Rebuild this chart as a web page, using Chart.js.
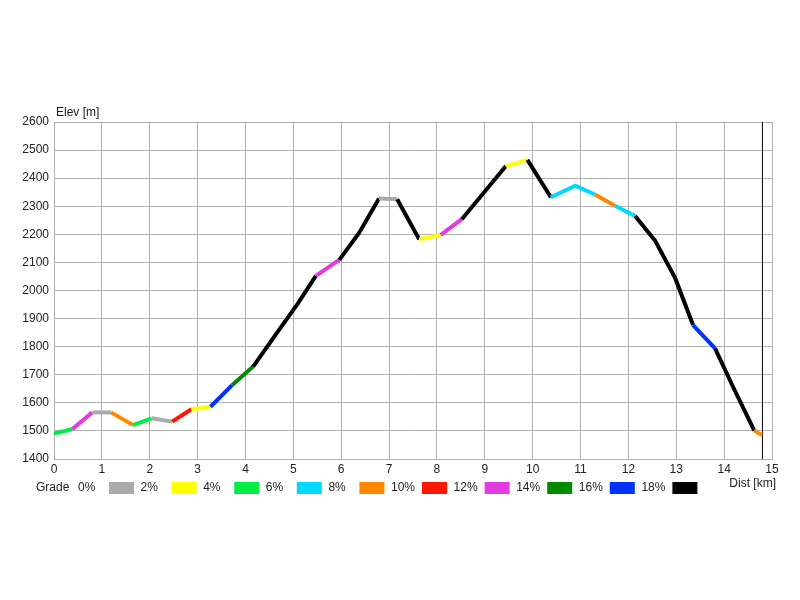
<!DOCTYPE html>
<html lang="en">
  <head>
    <meta charset="UTF-8" />
    <title>Elevation profile</title>
    <script src="https://cdn.jsdelivr.net/npm/chart.js"></script>
    <style>
      body { margin: 0; background: #fff; }
      #wrap { width: 800px; height: 600px; }
    </style>
  </head>
  <body>
    <div id="wrap"><canvas id="myChart"></canvas></div>
    <script>
      // distance along the track [km] and elevation [m]
      const dist = [0, 0.38, 0.8, 1.19, 1.65, 2.04, 2.47, 2.87, 3.27, 3.72, 4.16, 4.65, 5.1, 5.47, 5.96, 6.37, 6.79, 7.17, 7.63, 8.08, 8.52, 8.97, 9.44, 9.89, 10.38, 10.89, 11.3, 11.72, 12.14, 12.56, 12.98, 13.35, 13.81, 14.2, 14.63, 14.79];
      const elev = [1491, 1506, 1566, 1566, 1521, 1545, 1533, 1577, 1586, 1663, 1729, 1847, 1955, 2052, 2109, 2204, 2328, 2325, 2182, 2198, 2254, 2346, 2443, 2465, 2332, 2373, 2342, 2302, 2265, 2177, 2043, 1877, 1794, 1652, 1501, 1485];
      // grade class of each segment (lower bound in %)
      const segGrade = [4, 12, 0, 8, 4, 0, 10, 2, 16, 14, 18, 18, 18, 12, 18, 18, 0, 18, 2, 12, 18, 18, 2, 18, 6, 6, 8, 6, 18, 18, 18, 16, 18, 18, 8];

      const gradeLabels = ["0%", "2%", "4%", "6%", "8%", "10%", "12%", "14%", "16%", "18%"];
      const gradeColors = ["#aaaaaa", "#ffff00", "#00ee44", "#00d8ff", "#ff8800", "#ff1500", "#e03ce0", "#008a00", "#0033ff", "#000000"];

      const endDist = 14.8;

      const colorFor = (g) => gradeColors[Math.min(9, Math.floor(g / 2))];

      const FONT = '12px "Liberation Sans", Arial, sans-serif';

      // extra labels + grade legend drawn on the canvas
      const extras = {
        id: "extras",
        afterDraw(chart) {
          const ctx = chart.ctx;
          const area = chart.chartArea;
          ctx.save();
          ctx.font = FONT;
          ctx.fillStyle = "#222";
          ctx.textBaseline = "middle";
          ctx.textAlign = "left";
          ctx.fillText("Elev [m]", area.left + 2, area.top - 9);
          ctx.textAlign = "right";
          ctx.fillText("Dist [km]", 776, 484);

          ctx.textAlign = "left";
          ctx.fillText("Grade", 36, 488);
          gradeLabels.forEach((lbl, i) => {
            const x = 78 + 62.6 * i;
            ctx.fillStyle = "#222";
            ctx.fillText(lbl, x, 488);
            ctx.fillStyle = gradeColors[i];
            ctx.fillRect(x + 31, 482, 25, 12);
          });
          ctx.restore();
        },
      };

      const ctx = document.getElementById("myChart");
      const myChart = new Chart(ctx, {
        type: "line",
        data: {
          datasets: [
            {
              data: dist.map((d, i) => ({ x: d, y: elev[i] })),
              borderWidth: 4,
              borderColor: "#000",
              pointRadius: 0,
              tension: 0,
              segment: {
                borderColor: (c) => colorFor(segGrade[c.p0DataIndex]),
              },
            },
            {
              data: [
                { x: endDist, y: 1400 },
                { x: endDist, y: 2600 },
              ],
              borderWidth: 1,
              borderColor: "#000",
              pointRadius: 0,
            },
          ],
        },
        options: {
          responsive: true,
          maintainAspectRatio: false,
          animation: false,
          layout: { padding: { top: 122, right: 28, left: 0, bottom: 0 } },
          plugins: {
            legend: { display: false },
            tooltip: { enabled: false },
          },
          scales: {
            x: {
              type: "linear",
              min: 0,
              max: 15,
              grid: { color: "#b0b0b0", drawTicks: false },
              border: { color: "#b0b0b0" },
              ticks: {
                stepSize: 1,
                padding: 3,
                color: "#222",
                font: { family: '"Liberation Sans", Arial', size: 12 },
                callback: (v) => String(v),
              },
              afterFit: (s) => {
                s.height = 141;
              },
            },
            y: {
              min: 1400,
              max: 2600,
              grid: { color: "#b0b0b0", drawTicks: false },
              border: { color: "#b0b0b0" },
              ticks: {
                stepSize: 100,
                padding: 5,
                color: "#222",
                font: { family: '"Liberation Sans", Arial', size: 12 },
                callback: (v) => String(v),
              },
              afterFit: (s) => {
                s.width = 54;
              },
            },
          },
        },
        plugins: [extras],
      });
    </script>
  </body>
</html>
